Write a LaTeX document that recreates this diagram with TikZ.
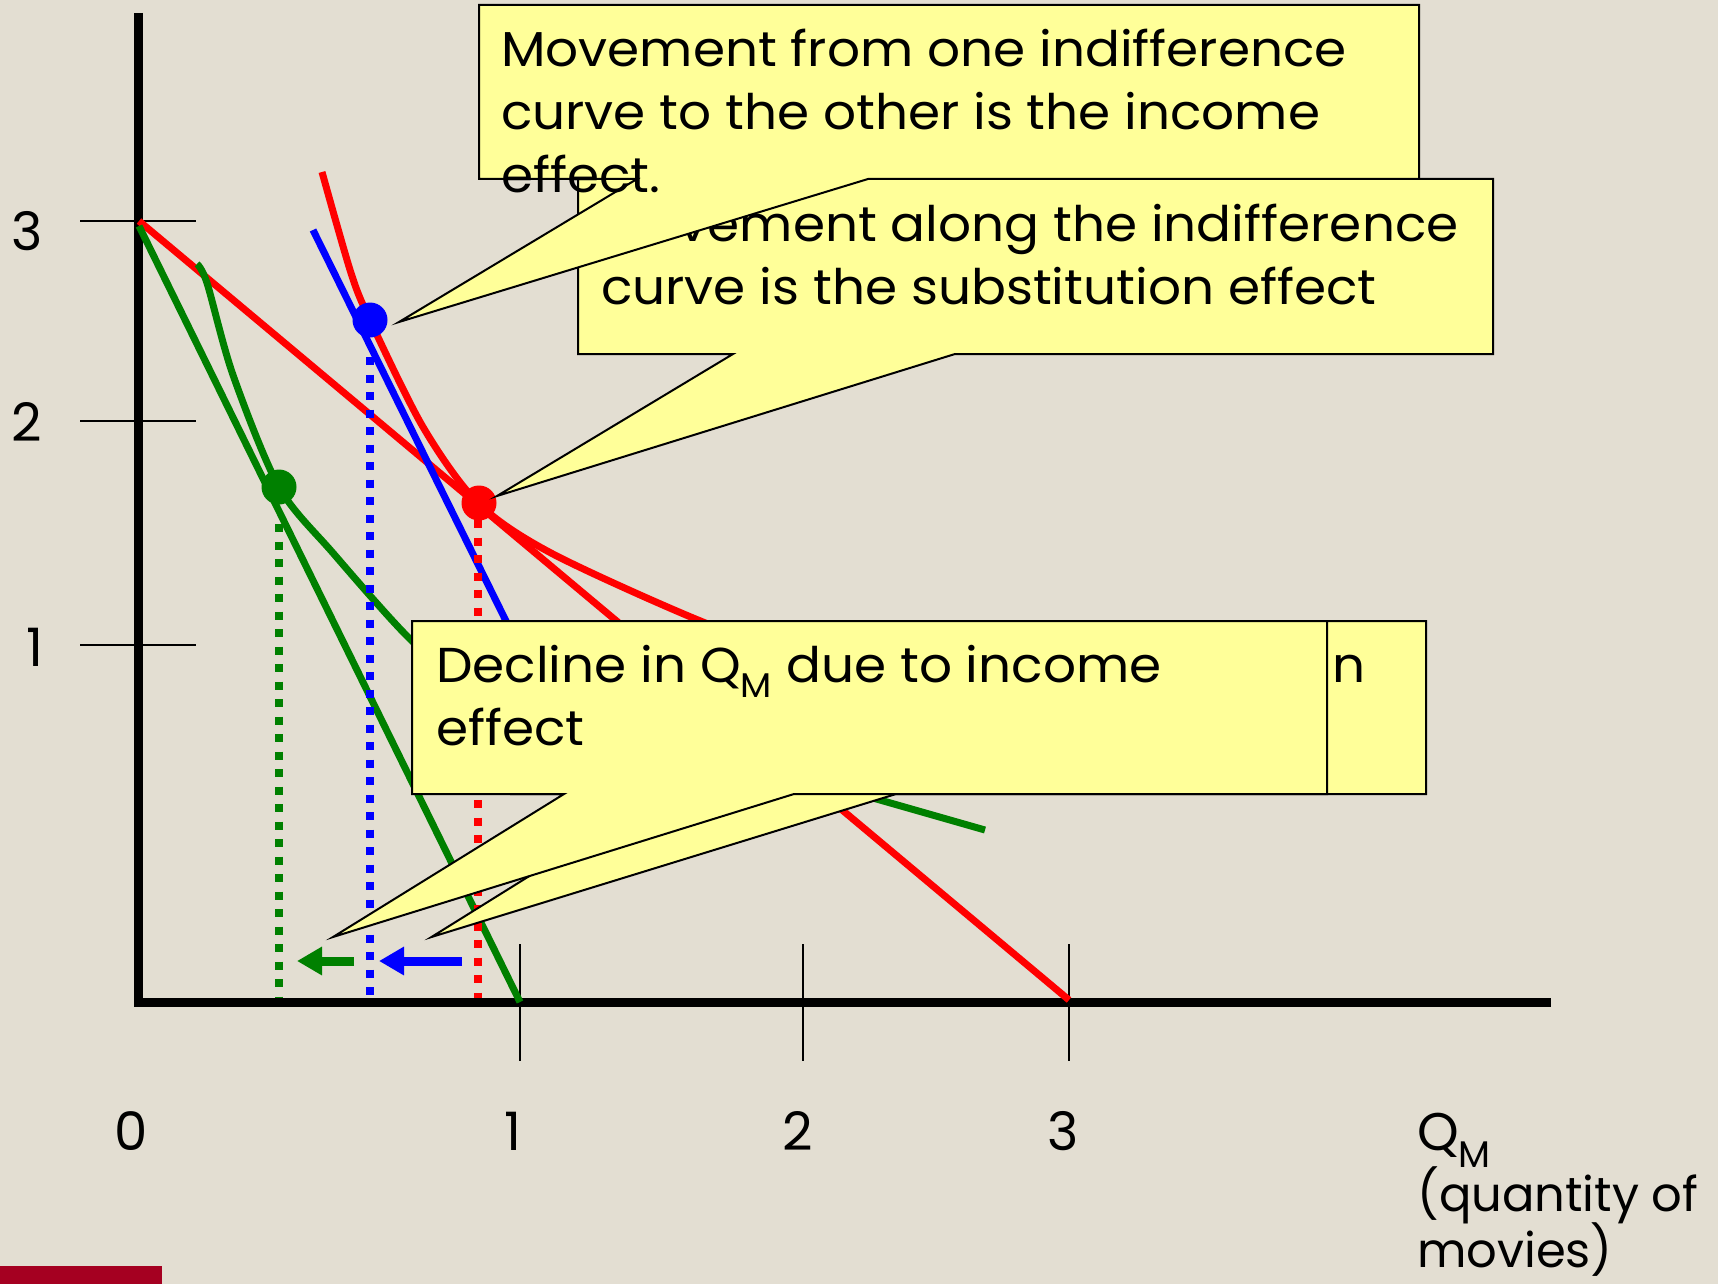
\documentclass[tikz,border=0pt]{standalone}
\usepackage{fontspec}
\setmainfont{Poppins}
\newfontfamily\stretchfam[FakeStretch=1.055]{Poppins}
\usetikzlibrary{arrows.meta}
\definecolor{bgc}{RGB}{227,222,210}
\definecolor{callyellow}{RGB}{255,255,153}
\definecolor{grn}{RGB}{0,128,0}
\definecolor{barred}{RGB}{165,0,33}
\newcommand\cofont{\stretchfam\fontsize{49pt}{63pt}\selectfont}
\newcommand\axfont{\fontsize{53pt}{63pt}\selectfont}
\newcommand\qfont{\fontsize{48pt}{63pt}\selectfont}
\begin{document}
\begin{tikzpicture}[x=1pt,y=-1pt,
  axisline/.style={line width=9pt,black},
  tickline/.style={line width=2pt,black},
  curveline/.style={line width=7pt},
  dotline/.style={line width=8pt,dash pattern=on 8pt off 9.5pt},
  dotnode/.style={circle,minimum size=35pt,inner sep=0pt},
  blockarrow/.style={line width=9pt,-{Triangle[length=25pt,width=27pt]}},
  callout/.style={fill=callyellow,draw=black,line width=2pt,line join=miter},
  cotext/.style={anchor=base west,inner sep=0pt,font=\cofont},
  axtext/.style={anchor=base,inner sep=0pt,font=\axfont},
  qtext/.style={anchor=base west,inner sep=0pt,font=\qfont}]
\useasboundingbox (0,0) rectangle (1718,1284);
\fill[bgc] (0,0) rectangle (1718,1284);
\fill[barred] (0,1266) rectangle (162,1284);

% ticks
\draw[tickline] (80,221) -- (196,221);
\draw[tickline] (80,420.5) -- (196,420.5);
\draw[tickline] (80,645) -- (196,645);
\draw[tickline] (520,944) -- (520,1061);
\draw[tickline] (803,944) -- (803,1061);
\draw[tickline] (1069,944) -- (1069,1061);
% axes
\draw[axisline] (138,13) -- (138,1002) -- (1551,1002);

% axis labels
\node[axtext] (y3) at (27.5,250.7) {3};
\node[axtext] (y2) at (27,441) {2};
\node[axtext] (y1) at (35,666) {1};
\node[axtext] (x0) at (131.5,1150) {0};
\node[axtext] (x1) at (513,1150) {1};
\node[axtext] (x2) at (797.6,1150) {2};
\node[axtext] (x3) at (1063,1150) {3};
\node[qtext,font=\axfont] (qm) at (1417,1150) {Q\textsubscript{M}};
\node[qtext] (qm2) at (1417,1211) {(quantity of};
\node[qtext] (qm3) at (1417,1267) {movies)};

% budget lines and indifference curves
\draw[curveline,red] (139,221) -- (1069,1000);
\draw[curveline,grn] (139,226) -- (520,1002);
\draw[curveline,blue] (313,230) -- (545,700);
\draw[curveline,red] plot[smooth] coordinates {(322,172) (351,273) (370,320) (423,427) (478,503) (551,553) (698,620) (800,655) (950,695)};
\draw[curveline,grn] plot[smooth] coordinates {(197,264) (207,283) (233,375) (279,487) (333,553) (411,640) (470,685) (600,722) (740,760) (873,798) (985,830)};

% dots
\node[dotnode,fill=blue] (bd) at (370,320) {};
\node[dotnode,fill=red] (rd) at (479,503) {};
\node[dotnode,fill=grn] (gd) at (279,487) {};
\coordinate (bdtop) at (370,357);
\coordinate (bdbot) at (370,998);
\coordinate (rdtop) at (478,520);
\coordinate (rdbot) at (478,998);
\coordinate (gdtop) at (279,524);
\coordinate (gdbot) at (279,998);
\draw[dotline,blue] (bdtop) -- (bdbot);
\draw[dotline,red] (rdtop) -- (rdbot);
\draw[dotline,grn] (gdtop) -- (gdbot);

% arrows
\coordinate (ga1) at (354,961);
\coordinate (ga2) at (297,961);
\coordinate (ba1) at (462,961);
\coordinate (ba2) at (379,961);
\draw[blockarrow,grn] (ga1) -- (ga2);
\draw[blockarrow,blue] (ba1) -- (ba2);

% callout D (behind)
\draw[callout] (511,621) -- (1426,621) -- (1426,794) -- (896,794) -- (431.5,937) -- (661,794) -- (511,794) -- cycle;
\node[cotext] (dtext) at (1332,682) {n};
% callout C
\draw[callout] (412,621) -- (1327,621) -- (1327,794) -- (794,794) -- (333,937) -- (564,794) -- (412,794) -- cycle;
\node[cotext] (ctext1) at (436,682) {Decline in Q\textsubscript{M} due to income};
\node[cotext] (ctext2) at (436,745) {effect};
% callout B
\draw[callout] (578,179) -- (1493,179) -- (1493,354) -- (955,354) -- (497,496) -- (733,354) -- (578,354) -- cycle;
\node[cotext] (btext1) at (601,241) {Movement along the indifference};
\node[cotext] (btext2) at (601,304) {curve is the substitution effect};
% callout A (front)
\draw[callout] (479,5) -- (1419,5) -- (1419,179) -- (868,179) -- (399,322) -- (637,179) -- (479,179) -- cycle;
\node[cotext] (atext1) at (501,67) {Movement from one indifference};
\node[cotext] (atext2) at (501,130) {curve to the other is the income};
\node[cotext] (atext3) at (501,193) {effect.};
\end{tikzpicture}
\end{document}
